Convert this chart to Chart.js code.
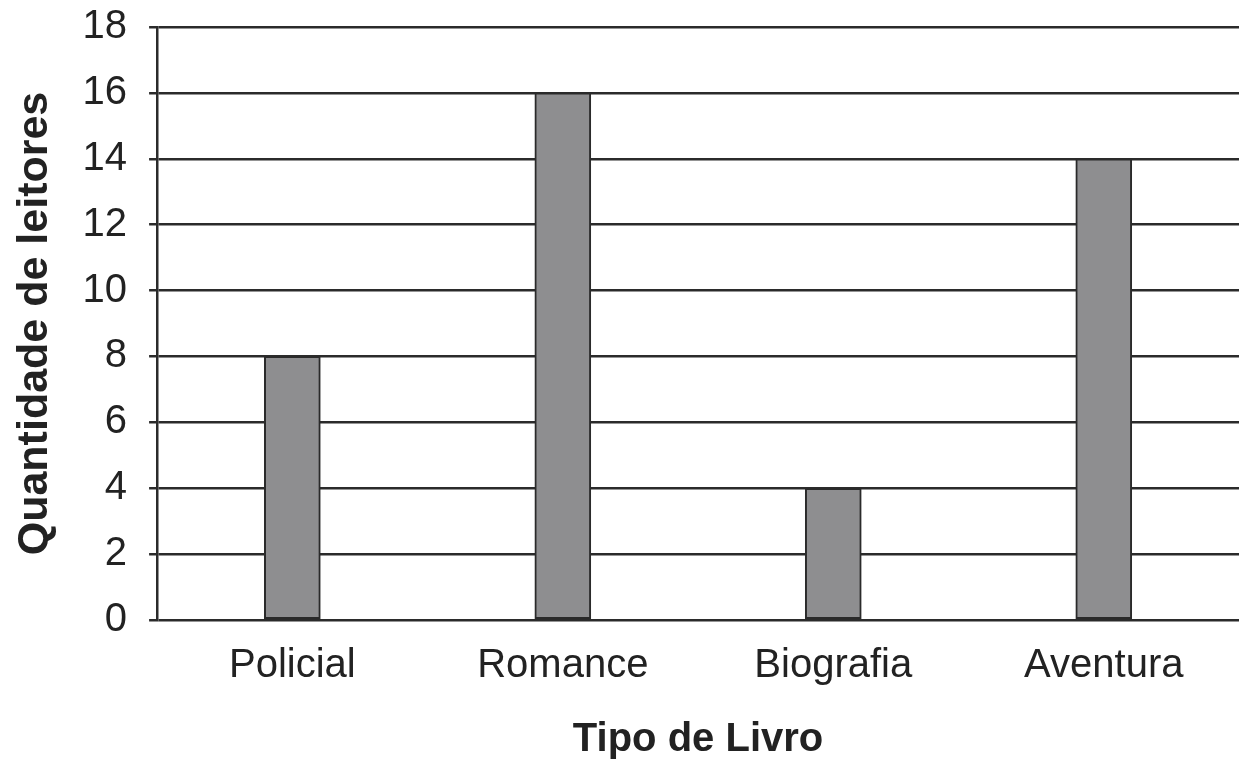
<!DOCTYPE html>
<html lang="pt">
<head>
  <meta charset="UTF-8">
  <title>Tipo de Livro</title>
  <script src="https://cdn.jsdelivr.net/npm/chart.js"></script>
  <style>
    html, body { margin: 0; padding: 0; background: #fff; }
    #wrap { width: 1242px; height: 760px; }
  </style>
</head>
<body>
  <div id="wrap"><canvas id="chart" width="1242" height="760"></canvas></div>
  <script>
    const categories = ['Policial', 'Romance', 'Biografia', 'Aventura'];
    const readers = [8, 16, 4, 14];
    const yTicks = [0, 2, 4, 6, 8, 10, 12, 14, 16, 18];

    const ink = '#2b2b2b';
    const font = 'Liberation Sans, Arial, sans-serif';

    new Chart(document.getElementById('chart'), {
      type: 'bar',
      data: {
        labels: categories,
        datasets: [{
          data: readers,
          backgroundColor: '#8e8e90',
          borderColor: '#2a2a2a',
          borderWidth: 2,
          borderSkipped: false,
          barThickness: 56
        }]
      },
      options: {
        responsive: false,
        animation: false,
        layout: { padding: { top: 0, right: 3, left: 9, bottom: 0 } },
        plugins: { legend: { display: false }, tooltip: { enabled: false } },
        scales: {
          x: {
            grid: { display: false },
            border: { display: false },
            ticks: { color: '#222', font: { family: font, size: 40, lineHeight: 1 }, padding: 18 },
            title: {
              display: true, text: 'Tipo de Livro', color: '#222',
              font: { family: font, size: 40, weight: 'bold', lineHeight: 1 }, padding: { top: 16, bottom: 0 }
            }
          },
          y: {
            min: 0, max: 18,
            afterBuildTicks: axis => { axis.ticks = yTicks.map(v => ({ value: v })); },
            grid: { color: ink, lineWidth: 2.5, tickLength: 8 },
            border: { color: ink, width: 2.5 },
            // small lineHeight only trims the space chart.js reserves above the 18 label
            ticks: { color: '#222', font: { family: font, size: 40, lineHeight: 0.25 }, padding: 22 },
            title: {
              display: true, text: 'Quantidade de leitores', color: '#222',
              font: { family: font, size: 43, weight: 'bold' }, padding: { top: 0, bottom: 0 }
            }
          }
        }
      }
    });
  </script>
</body>
</html>
